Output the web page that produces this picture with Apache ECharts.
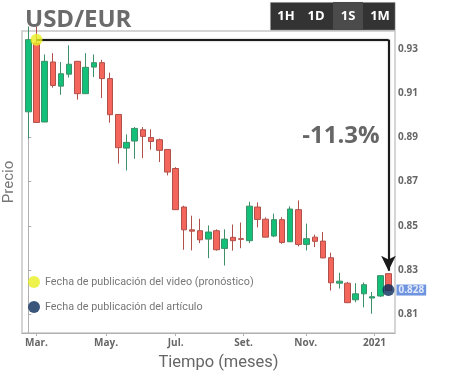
<!DOCTYPE html>
<html><head><meta charset="utf-8">
<script src="https://cdn.jsdelivr.net/npm/echarts@6/dist/echarts.min.js"></script>
<style>html,body{margin:0;padding:0;background:#fff}#c{width:450px;height:374px}</style>
</head><body><div id="c"></div>
<script>
// weekly candles (index of week)
const weeks  = [0,1,2,3,4,5,6,7,8,9,10,11,12,13,14,15,16,17,18,19,20,21,22,23,24,25,26,27,28,29,30,31,32,33,34,35,36,37,38,39,40,41,42,43,44];
const opens  = [0.9015,0.9325,0.8969,0.9240,0.9131,0.9185,0.9243,0.9097,0.9217,0.9237,0.9165,0.9003,0.8851,0.8883,0.8934,0.8899,0.8889,0.8845,0.8759,0.8585,0.8482,0.8478,0.8440,0.8478,0.8398,0.8448,0.8442,0.8433,0.8585,0.8530,0.8454,0.8528,0.8428,0.8573,0.8416,0.8449,0.8431,0.8356,0.8241,0.8241,0.8166,0.8193,0.8174,0.8183,0.8284];
const closes = [0.9341,0.8967,0.9243,0.9134,0.9187,0.9230,0.9097,0.9216,0.9237,0.9165,0.9002,0.8853,0.8877,0.8940,0.8904,0.8881,0.8841,0.8743,0.8573,0.8482,0.8476,0.8437,0.8472,0.8392,0.8440,0.8433,0.8439,0.8589,0.8529,0.8449,0.8528,0.8425,0.8576,0.8416,0.8442,0.8430,0.8355,0.8243,0.8250,0.8153,0.8193,0.8234,0.8180,0.8275,0.8208];
const lows   = [0.8894,0.8966,0.8968,0.9124,0.9092,0.9170,0.9070,0.9096,0.9172,0.9077,0.8966,0.8781,0.8750,0.8803,0.8806,0.8844,0.8788,0.8728,0.8572,0.8392,0.8389,0.8422,0.8354,0.8388,0.8321,0.8388,0.8399,0.8422,0.8493,0.8448,0.8449,0.8419,0.8427,0.8407,0.8389,0.8404,0.8354,0.8208,0.8217,0.8151,0.8155,0.8132,0.8103,0.8179,0.8207];
const highs  = [0.9400,0.9400,0.9274,0.9280,0.9240,0.9315,0.9245,0.9280,0.9274,0.9250,0.9192,0.9004,0.8913,0.8946,0.8946,0.8936,0.8894,0.8846,0.8765,0.8591,0.8546,0.8532,0.8502,0.8484,0.8484,0.8506,0.8515,0.8609,0.8606,0.8538,0.8555,0.8539,0.8588,0.8615,0.8510,0.8460,0.8472,0.8379,0.8288,0.8247,0.8241,0.8244,0.8201,0.8276,0.8285];

const monthTicks  = [1, 9.5, 18, 26.3, 33.9, 42.3];
const monthLabels = ['Mar.', 'May.', 'Jul.', 'Set.', 'Nov.', '2021'];
const priceTicks  = [0.81, 0.83, 0.85, 0.87, 0.89, 0.91, 0.93];

const videoPoint   = [1, 0.9341];
const articlePoint = [44, 0.8210];
const arrowEnd     = [44, 0.8297];
const articlePriceLabel = '0.828';
const changeLabel = '-11.3%';
const legendVideo = 'Fecha de publicación del video (pronóstico)';
const legendArticle = 'Fecha de publicación del artículo';

const candleData = weeks.map((w, i) => [w, opens[i], closes[i], lows[i], highs[i]]);
const FONT = 'Open Sans';

function nearestLabel(v, vals, labels) {
  let best = 0, bd = Infinity;
  vals.forEach((t, i) => { const d = Math.abs(t - v); if (d < bd) { bd = d; best = i; } });
  return labels[best];
}

const chart = echarts.init(document.getElementById('c'), null, {renderer: 'canvas'});
chart.setOption({
  animation: false,
  backgroundColor: '#fff',
  textStyle: {fontFamily: FONT},
  title: {
    text: 'USD/EUR', left: 20, top: 3,
    textStyle: {fontFamily: FONT, fontSize: 24, fontWeight: 'bold', color: '#6b6b6b'}
  },
  legend: {
    orient: 'vertical', left: 23, top: 271, itemWidth: 12, itemHeight: 12, itemGap: 13,
    icon: 'circle', selectedMode: false,
    textStyle: {fontFamily: 'Roboto', fontSize: 10.8, color: '#777'},
    data: [legendVideo, legendArticle]
  },
  grid: {left: 22, right: 55, top: 31, bottom: 41, show: true, borderColor: '#c8c8c8', borderWidth: 1.5, backgroundColor: '#fff', outerBoundsMode: 'none', containLabel: false},
  xAxis: {
    type: 'value', min: -0.77, max: 44.8,
    axisLine: {show: true, lineStyle: {color: '#b0b0b0'}},
    axisTick: {show: true, customValues: monthTicks, length: 3, lineStyle: {color: '#b0b0b0'}},
    axisLabel: {customValues: monthTicks, formatter: v => nearestLabel(v, monthTicks, monthLabels),
      color: '#666', fontWeight: 'bold', fontSize: 10, margin: 5, fontFamily: FONT},
    splitLine: {show: false},
    name: 'Tiempo (meses)', nameLocation: 'middle', nameGap: 21,
    nameTextStyle: {fontSize: 16.5, color: '#666', fontFamily: 'Roboto', padding: [0, 0, 0, 20]}
  },
  yAxis: [{
    type: 'value', position: 'right', min: 0.8016, max: 0.938, scale: true,
    axisLine: {show: true, lineStyle: {color: '#b0b0b0'}},
    axisTick: {show: true, customValues: priceTicks, length: 3, lineStyle: {color: '#b0b0b0'}},
    axisLabel: {customValues: priceTicks, formatter: v => v.toFixed(2), color: '#666', fontWeight: 'bold', fontSize: 10, margin: 3, fontFamily: FONT},
    splitLine: {show: false}
  }, {
    type: 'value', position: 'left', min: 0.8016, max: 0.938,
    axisLine: {show: false}, axisTick: {show: false}, axisLabel: {show: false}, splitLine: {show: false},
    name: 'Precio', nameLocation: 'middle', nameGap: 5, nameRotate: 90,
    nameTextStyle: {fontSize: 15, color: '#777', fontFamily: 'Roboto'}
  }],
  series: [{
    type: 'candlestick', name: 'USD/EUR',
    data: candleData, barWidth: 6, clip: true,
    itemStyle: {color: '#12c07a', color0: '#f4665b', borderColor: '#3d8f68', borderColor0: '#b0504a', borderWidth: 1},
    markLine: {
      silent: true, symbol: ['none', 'none'], label: {show: false},
      lineStyle: {color: '#1a1a1a', width: 2, type: 'solid', shadowColor: 'rgba(0,0,0,0.35)', shadowBlur: 2},
      data: [
        [{coord: videoPoint, symbol: 'none'}, {coord: [arrowEnd[0], videoPoint[1]], symbol: 'none'}],
        [{coord: [arrowEnd[0], videoPoint[1]], symbol: 'none'}, {coord: arrowEnd, symbol: 'arrow', symbolSize: [11, 15]}]
      ]
    }
  }, {
    type: 'scatter', name: legendVideo, data: [videoPoint], symbolSize: 12,
    itemStyle: {color: '#e8f01f'}, z: 5
  }, {
    type: 'scatter', name: legendArticle, data: [articlePoint], symbolSize: 12,
    itemStyle: {color: '#0a2c5a'}, z: 5,
    label: {show: true, position: 'right', distance: 2, formatter: articlePriceLabel,
      backgroundColor: '#4a79d8', color: '#fff', fontWeight: 'bold', fontSize: 10, padding: [1, 2, 0, 2], fontFamily: FONT}
  }],
  graphic: [
    {type: 'rect', left: 270, top: 2, shape: {width: 125, height: 28}, style: {fill: '#333', stroke: '#ddd', lineWidth: 0.5}, z: 10},
    {type: 'rect', left: 333, top: 2, shape: {width: 30, height: 28}, style: {fill: '#4b4b4b'}, z: 11},
    {type: 'text', x: 286, y: 16, style: {text: '1H', fill: '#fff', font: 'bold 13px "Open Sans"', align: 'center', verticalAlign: 'middle'}, z: 12},
    {type: 'text', x: 316, y: 16, style: {text: '1D', fill: '#fff', font: 'bold 13px "Open Sans"', align: 'center', verticalAlign: 'middle'}, z: 12},
    {type: 'text', x: 348, y: 16, style: {text: '1S', fill: '#fff', font: 'bold 13px "Open Sans"', align: 'center', verticalAlign: 'middle'}, z: 12},
    {type: 'text', x: 380, y: 16, style: {text: '1M', fill: '#fff', font: 'bold 13px "Open Sans"', align: 'center', verticalAlign: 'middle'}, z: 12},
    {type: 'text', x: 341, y: 136, style: {text: changeLabel, fill: '#666', font: 'bold 24px "Open Sans"', align: 'center', verticalAlign: 'middle'}, z: 12}
  ]
});
</script></body></html>
